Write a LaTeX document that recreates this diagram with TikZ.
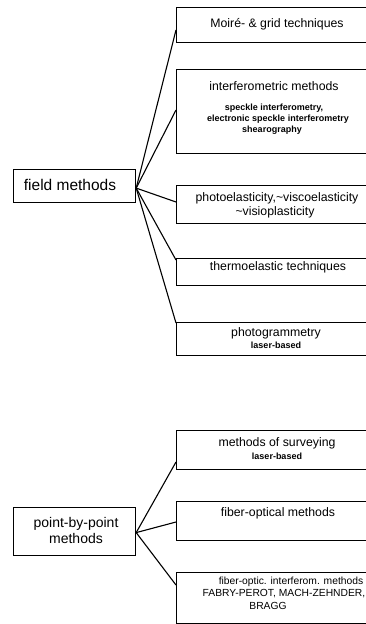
\documentclass[tikz,border=0pt]{standalone}
\usepackage{fontspec}
\setmainfont{Liberation Sans}
\begin{document}
\begin{tikzpicture}[x=1pt,y=-1pt,
  box/.style={draw, line width=1.2pt, inner sep=0pt, anchor=north west},
  rbox/.style={box, minimum width=192pt},
  lbox/.style={box, minimum width=122pt},
  conn/.style={line width=1.1pt},
  big/.style={font=\fontsize{12.3}{14}\selectfont, inner sep=0pt},
  small/.style={font=\fontsize{9}{10}\selectfont\bfseries, inner sep=0pt},
  mid/.style={font=\fontsize{10.3}{12}\selectfont, inner sep=0pt}]
\useasboundingbox (0,0) rectangle (366,624);
\fill[white] (0,0) rectangle (366,624);
% left boxes
\node[lbox, minimum height=33pt] (fm) at (13,169) {};
\node[font=\fontsize{15.5}{18}\selectfont, inner sep=0pt] (fmt) at (70,185) {field methods};
\node[lbox, minimum height=48pt] (pp) at (13,507) {};
\node[font=\fontsize{14}{16}\selectfont, align=center, inner sep=0pt] (ppt) at (76,530) {point-by-point\\methods};
% right boxes
\node[rbox, minimum height=35pt] (b1) at (176,7) {};
\node[rbox, minimum height=84pt] (b2) at (176,69) {};
\node[rbox, minimum height=38pt] (b3) at (176,185) {};
\node[rbox, minimum height=27pt] (b4) at (176,258) {};
\node[rbox, minimum height=33pt] (b5) at (176,322) {};
\node[rbox, minimum height=39pt] (b6) at (176,430) {};
\node[rbox, minimum height=39pt] (b7) at (176,501) {};
\node[rbox, minimum height=51pt] (b8) at (176,572) {};
% texts
\node[big] (t1) at (277,24) {Moiré- \& grid techniques};
\node[big] (t2) at (274,86) {interferometric methods};
\node[small] (t2a) at (274,108) {speckle interferometry,};
\node[small] (t2b) at (278,119) {electronic speckle interferometry};
\node[small] (t2c) at (272,130) {shearography};
\node[big] (t3) at (277,198) {photoelasticity,\textasciitilde viscoelasticity};
\node[big] (t3a) at (275,212) {\textasciitilde visioplasticity};
\node[big] (t4) at (278,267) {thermoelastic techniques};
\node[big] (t5) at (276,333) {photogrammetry};
\node[small] (t5a) at (276,345) {laser-based};
\node[big] (t6) at (277,443) {methods of surveying};
\node[small] (t6a) at (277,456) {laser-based};
\node[big] (t7) at (278,513) {fiber-optical methods};
\node[mid] (t8) at (291,582) {fiber-optic. interferom. methods};
\node[mid] (t8a) at (284,594) {FABRY-PEROT, MACH-ZEHNDER,};
\node[mid] (t8b) at (268,606) {BRAGG};
% connectors
\draw[conn] ([yshift=-2pt]fm.east) -- ([yshift=-23pt]b1.north west);
\draw[conn] ([yshift=-2pt]fm.east) -- ([yshift=-41pt]b2.north west);
\draw[conn] ([yshift=-2pt]fm.east) -- ([yshift=-17pt]b3.north west);
\draw[conn] ([yshift=-2pt]fm.east) -- ([yshift=-2pt]b4.north west);
\draw[conn] ([yshift=-2pt]fm.east) -- ([yshift=-1pt]b5.north west);
\draw[conn] ([yshift=-1pt]pp.east) -- ([yshift=-32pt]b6.north west);
\draw[conn] ([yshift=-1pt]pp.east) -- ([yshift=-21pt]b7.north west);
\draw[conn] ([yshift=-1pt]pp.east) -- ([yshift=-13pt]b8.north west);
\end{tikzpicture}
\end{document}
